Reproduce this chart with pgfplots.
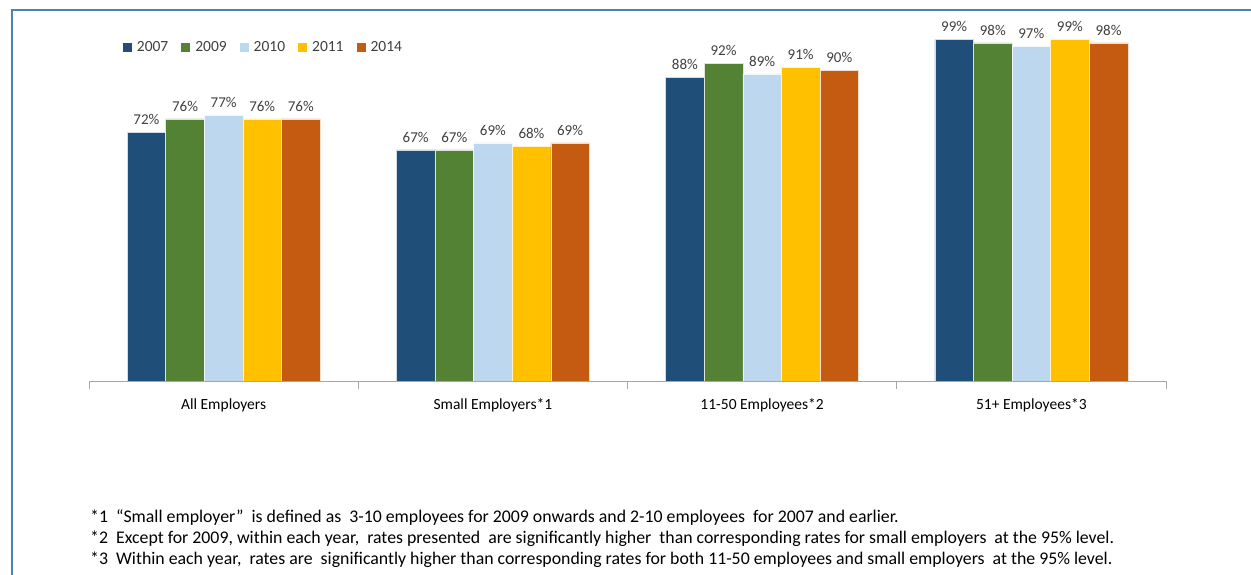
\documentclass[border=0pt]{standalone}
\usepackage{pgfplots}
\pgfplotsset{compat=1.18}
\usepackage{fontspec}
\setmainfont{Carlito}
\definecolor{c07}{HTML}{1F4E79}
\definecolor{c09}{HTML}{548235}
\definecolor{c10}{HTML}{BDD7EE}
\definecolor{c11}{HTML}{FFC000}
\definecolor{c14}{HTML}{C55A11}
\definecolor{frameblue}{HTML}{4F81BD}
\definecolor{lbl}{HTML}{404040}
\begin{document}
\begin{tikzpicture}[x=1pt,y=1pt]
\useasboundingbox[fill=white] (0,0) rectangle (1251,575);
\draw[frameblue,line width=2.5pt] (12,-2) -- (12,565) -- (1255,565);
\begin{axis}[
  at={(89pt,194pt)}, anchor=south west,
  scale only axis, width=1077pt, height=345pt,
  ymin=0, ymax=100,
  xmin=-0.5, xmax=3.5,
  ybar=0pt, bar width=38.6pt,
  axis y line=none,
  axis x line*=bottom,
  x axis line style={draw=black!35, -},
  xtick={0,1,2,3},
  xticklabels={All Employers, Small Employers*1, 11-50 Employees*2, 51+ Employees*3},
  major tick length=0pt,
  tick align=outside,
  extra x ticks={-0.5,0.5,1.5,2.5,3.5},
  extra x tick labels={},
  extra x tick style={major tick length=8pt, major tick style={draw=black!35, line width=0.8pt}},
  x tick label style={font=\fontsize{15.5}{17}\selectfont, yshift=-14pt},
  /pgf/number format/assume math mode=true,
  nodes near coords={\pgfmathprintnumber{\pgfplotspointmeta}\%},
  every node near coord/.append style={font=\fontsize{15}{17}\selectfont, text=lbl, yshift=4pt},
  legend style={at={(0.0285,0.968)}, anchor=west, draw=none, fill=none,
    legend columns=-1, font=\fontsize{15.5}{17}\selectfont, text=lbl,
    /tikz/every odd column/.append style={column sep=3pt},
    /tikz/every even column/.append style={column sep=11pt}},
  legend image code/.code={\fill[#1,draw=none] (0pt,-4.5pt) rectangle (9pt,4.5pt);},
]
\addplot[fill=c07,draw=white!80!c07,line width=0.5pt] coordinates {(0,72) (1,67) (2,88) (3,99)};
\addplot[fill=c09,draw=white!80!c09,line width=0.5pt] coordinates {(0,76) (1,67) (2,92) (3,98)};
\addplot[fill=c10,draw=white!80!c10,line width=0.5pt] coordinates {(0,77) (1,69) (2,89) (3,97)};
\addplot[fill=c11,draw=white!80!c11,line width=0.5pt] coordinates {(0,76) (1,68) (2,91) (3,99)};
\addplot[fill=c14,draw=white!80!c14,line width=0.5pt] coordinates {(0,76) (1,69) (2,90) (3,98)};
\legend{2007,2009,2010,2011,2014}
\end{axis}
\begin{scope}[font=\fontsize{17.8}{20}\selectfont]
\node[anchor=base west,inner sep=0pt] at (90,52) {*1\ \ ``Small employer''\ \ is defined as\ \ 3-10 employees for 2009 onwards and 2-10 employees\ \ for 2007 and earlier.};
\node[anchor=base west,inner sep=0pt] at (90,31) {*2\ \ Except for 2009, within each year,\ \ rates presented\ \ are significantly higher\ \ than corresponding rates for small employers\ \ at the 95\% level.};
\node[anchor=base west,inner sep=0pt] at (90,10) {*3\ \ Within each year,\ \ rates are\ \ significantly higher than corresponding rates for both 11-50 employees and small employers\ \ at the 95\% level.};
\end{scope}
\end{tikzpicture}
\end{document}
